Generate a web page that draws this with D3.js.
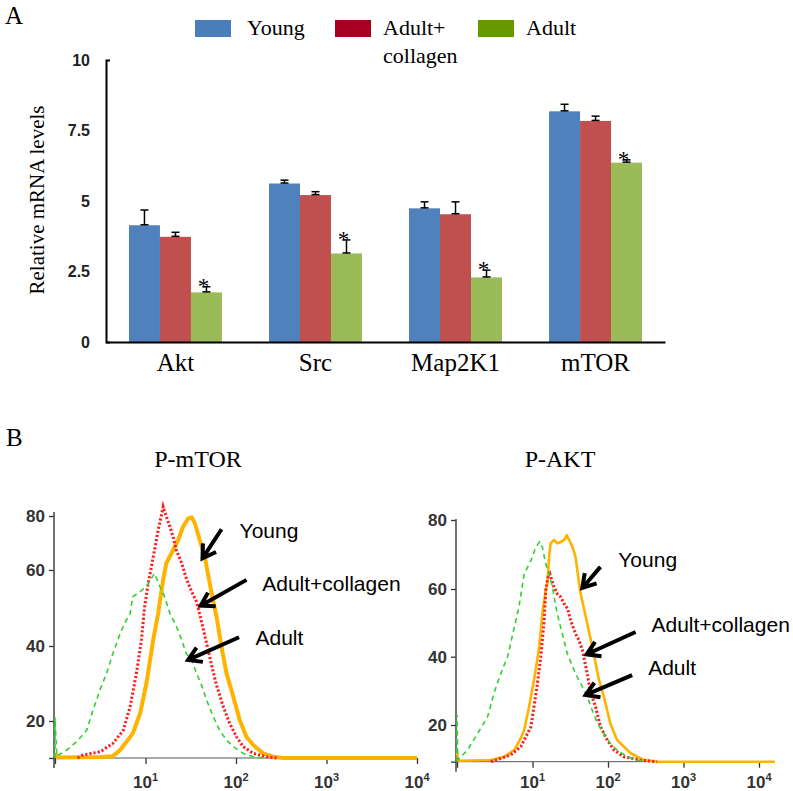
<!DOCTYPE html>
<html><head><meta charset="utf-8">
<script src="https://cdn.jsdelivr.net/npm/d3@7"></script>
<style>body{margin:0;background:#fff}</style>
</head><body><svg id="c" width="793" height="791"></svg>
<script>
// ---------- Panel A data ----------
const categories = ["Akt", "Src", "Map2K1", "mTOR"];
const seriesNames = ["Young", "Adult+collagen", "Adult"];
const youngValues = [4.14, 5.62, 4.74, 8.18];
const adultCollagenValues = [3.73, 5.21, 4.53, 7.84];
const adultValues = [1.76, 3.14, 2.29, 6.36];
const youngErr = [0.54, 0.12, 0.23, 0.25];
const adultCollagenErr = [0.16, 0.12, 0.44, 0.17];
const adultErr = [0.20, 0.48, 0.26, 0.10];
const adultSignificant = [true, true, true, true];
const yTicksA = [0, 2.5, 5, 7.5, 10];

// ---------- Panel B data: [log10 fluorescence, count] ----------
const histYTicks = [0, 20, 40, 60, 80];
const histXTicks = [1, 10, 100, 1000, 10000];
const mtorYoung = [[0,2.5],[0.03,0.3],[0.5,0.5],[0.64,1],[0.72,4.3],[0.86,13.3],[0.94,22],[1.01,30],[1.085,41.6],[1.14,48.6],[1.195,57.4],[1.23,62.5],[1.305,67.4],[1.36,71],[1.415,76],[1.47,79],[1.51,79.5],[1.545,77.3],[1.60,71],[1.655,65],[1.69,59],[1.73,54],[1.785,47.7],[1.84,39.8],[1.895,32.7],[1.97,26.5],[2.04,20.3],[2.115,11.5],[2.19,7],[2.30,2.5],[2.41,0.7],[2.52,0],[4,0]];
const mtorCollagen = [[0.25,0],[0.31,1.6],[0.5,3.4],[0.64,7.9],[0.755,15],[0.83,23.8],[0.90,32.7],[0.955,41.6],[0.99,50.3],[1.03,56.5],[1.065,61.2],[1.10,67.4],[1.14,74.8],[1.18,81],[1.195,83.5],[1.23,79.8],[1.27,76],[1.305,72.3],[1.34,67.4],[1.40,62.5],[1.45,57.8],[1.51,54.3],[1.565,51.6],[1.62,46.3],[1.675,40.7],[1.73,34.9],[1.785,29.5],[1.86,23.8],[1.93,18.7],[2.005,11.5],[2.08,6.1],[2.19,2.5],[2.335,0.7],[2.45,0]];
const mtorAdult = [[0,0],[0,21],[0.02,1],[0.13,4.3],[0.24,8.8],[0.35,15],[0.42,22.9],[0.50,28.5],[0.57,32.7],[0.64,38],[0.72,43.3],[0.77,46],[0.83,48.6],[0.86,53],[0.94,54.3],[1.01,55.6],[1.065,57.8],[1.10,59.1],[1.16,55.6],[1.21,53],[1.27,48.6],[1.34,45.2],[1.40,41.6],[1.45,38],[1.51,36.3],[1.565,32.7],[1.62,29.5],[1.675,25.6],[1.75,21.1],[1.82,15],[1.895,9.7],[1.97,6.1],[2.08,2.5],[2.19,0.7],[2.30,0]];
const aktYoung = [[0,5],[0.02,0.5],[0.45,0.9],[0.625,2.7],[0.76,6.4],[0.845,12.8],[0.89,17.3],[0.955,25.4],[1.02,33.2],[1.09,42.9],[1.13,52.7],[1.175,59.5],[1.20,62.5],[1.22,69.3],[1.24,73.2],[1.285,74.2],[1.33,73.2],[1.375,73.7],[1.42,74.2],[1.455,75.6],[1.485,74.2],[1.53,72.2],[1.57,69.3],[1.63,59.5],[1.725,49.8],[1.81,41],[1.88,33.2],[1.945,28.3],[2.03,20.5],[2.12,11.8],[2.30,4.6],[2.475,0.9],[2.65,0],[4.21,0]];
const aktCollagen = [[0.45,0],[0.58,1.8],[0.71,3.6],[0.845,8.2],[0.98,19.1],[1.02,25.4],[1.065,32.2],[1.11,40],[1.155,50.7],[1.175,59.5],[1.205,63.4],[1.23,64.4],[1.285,60.5],[1.33,58.5],[1.375,57.6],[1.42,55.6],[1.465,54.2],[1.505,50.7],[1.57,46.8],[1.615,44.9],[1.66,42],[1.725,35.1],[1.77,29.3],[1.835,25.4],[1.90,19.1],[1.99,11.8],[2.08,6.4],[2.21,2.7],[2.43,0.9],[2.65,0]];
const aktAdult = [[0,0],[0,23],[0.01,0.9],[0.14,6.4],[0.275,15.5],[0.405,22.4],[0.49,29.3],[0.58,35.1],[0.67,40],[0.76,48.8],[0.82,54.6],[0.89,64.4],[0.98,68.3],[1.045,72.2],[1.095,73.7],[1.13,72.2],[1.175,67.3],[1.22,64.4],[1.265,60.5],[1.31,54.6],[1.35,50.7],[1.395,46.8],[1.46,41],[1.53,37.1],[1.59,34.2],[1.66,31.2],[1.725,28.3],[1.79,24.4],[1.86,20.5],[1.945,15.5],[2.03,10],[2.12,6.4],[2.255,2.7],[2.39,0.9],[2.5,0]];
// annotation label/arrow anchors in data units [log10 FL, count]
const mtorNotes = [
  {label:"Young", at:[2.04,71.8], from:[1.84,75.1], to:[1.63,64.3]},
  {label:"Adult+collagen", at:[2.29,54.5], from:[2.116,57.4], to:[1.61,50.6]},
  {label:"Adult", at:[2.215,40.3], from:[2.034,42.3], to:[1.47,36.3]}
];
const aktNotes = [
  {label:"Young", at:[2.136,66.4], from:[1.90,66.4], to:[1.66,60.3]},
  {label:"Adult+collagen", at:[2.576,47.3], from:[2.365,47.3], to:[1.717,40.7]},
  {label:"Adult", at:[2.532,34.6], from:[2.32,34.6], to:[1.704,28.8]}
];

const SERIF = "'Liberation Serif','Times New Roman',serif";
const SANS = "'Liberation Sans',Arial,sans-serif";
const barColors = ["#4f81bd", "#c0504d", "#9bbb59"];
const legendColors = ["#4a7ebb", "#a50021", "#669900"];

const svg = d3.select("#c");
svg.append("rect").attr("width", 793).attr("height", 791).attr("fill", "#fff");

// ================= Panel A =================
svg.append("text").attr("x", 5).attr("y", 24).attr("font-family", SERIF).attr("font-size", 25).text("A");

const x0 = d3.scaleBand().domain(categories).range([106, 665]).paddingInner(0.336).paddingOuter(0.164);
const x1 = d3.scaleBand().domain(seriesNames).range([0, x0.bandwidth()]);
const yA = d3.scaleLinear().domain([0, 10]).range([342, 60]);

const seriesVals = [youngValues, adultCollagenValues, adultValues];
const seriesErr = [youngErr, adultCollagenErr, adultErr];
const barData = [];
categories.forEach((c, i) => seriesNames.forEach((s, j) => barData.push({c, s, j, v: seriesVals[j][i], e: seriesErr[j][i], sig: j === 2 && adultSignificant[i]})));

const gA = svg.append("g");
gA.selectAll("rect.bar").data(barData).join("rect")
  .attr("x", d => x0(d.c) + x1(d.s)).attr("width", x1.bandwidth())
  .attr("y", d => yA(d.v)).attr("height", d => yA(0) - yA(d.v))
  .attr("fill", d => barColors[d.j]);

// error bars
const cx = d => x0(d.c) + x1(d.s) + x1.bandwidth() / 2;
const eb = gA.selectAll("g.eb").data(barData).join("g").attr("stroke", "#000").attr("stroke-width", 1.5);
eb.append("line").attr("x1", cx).attr("x2", cx).attr("y1", d => yA(d.v)).attr("y2", d => yA(d.v + d.e));
eb.append("line").attr("x1", d => cx(d) - 4).attr("x2", d => cx(d) + 4)
  .attr("y1", d => yA(d.v + d.e)).attr("y2", d => yA(d.v + d.e));
eb.append("line").attr("x1", d => cx(d) - 4).attr("x2", d => cx(d) + 4)
  .attr("y1", d => yA(d.v) - 0.5).attr("y2", d => yA(d.v) - 0.5);

gA.selectAll("text.sig").data(barData.filter(d => d.sig)).join("text")
  .attr("x", d => cx(d) - 3)
  .attr("y", d => yA(d.v + d.e) + 7)
  .attr("text-anchor", "middle").attr("font-family", SERIF).attr("font-size", 23).text("*");

// axes
const yAxisA = svg.append("g").attr("transform", "translate(106,0)")
  .call(d3.axisLeft(yA).tickValues(yTicksA).tickSize(0).tickSizeOuter(-4).tickPadding(16).tickFormat(d => d));
yAxisA.select(".domain").attr("stroke", "#000").attr("stroke-width", 2);
yAxisA.selectAll("text").attr("font-family", SANS).attr("font-weight", "bold").attr("font-size", 16).attr("fill", "#222");

const xAxisA = svg.append("g").attr("transform", "translate(0,342)")
  .call(d3.axisBottom(x0).tickSize(0).tickSizeOuter(0));
xAxisA.select(".domain").attr("stroke", "#000").attr("stroke-width", 2);
xAxisA.selectAll("text").attr("font-family", SERIF).attr("font-size", 25).attr("fill", "#000").attr("y", 29).attr("dy", 0);

svg.append("text").attr("transform", "translate(44,200) rotate(-90)").attr("text-anchor", "middle")
  .attr("font-family", SERIF).attr("font-size", 21).text("Relative mRNA levels");

// legend
const legendX = [195, 335, 478];
const lg = svg.append("g").selectAll("g").data(seriesNames).join("g").attr("transform", (d, i) => `translate(${legendX[i]},20)`);
lg.append("rect").attr("width", 36).attr("height", 17).attr("fill", (d, i) => legendColors[i]);
lg.append("text").attr("y", 15).attr("font-family", SERIF).attr("font-size", 22)
  .each(function (d) {
    const parts = d.includes("+") ? [d.slice(0, d.indexOf("+") + 1), d.slice(d.indexOf("+") + 1)] : [d];
    d3.select(this).selectAll("tspan").data(parts).join("tspan").attr("x", d === "Young" ? 52 : 48).attr("dy", (p, k) => k ? 28 : 0).text(p => p);
  });

// ================= Panel B =================
svg.append("text").attr("x", 6).attr("y", 446).attr("font-family", SERIF).attr("font-size", 25).text("B");

function histPanel(cfg) {
  const xs = d3.scaleLog().domain([1, 1e4]).range(cfg.xr);
  const ys = d3.scaleLinear().domain(histYTicks).range(cfg.yr);
  const g = svg.append("g");
  g.append("text").attr("x", cfg.titleX).attr("y", 467).attr("text-anchor", "middle")
    .attr("font-family", SERIF).attr("font-size", 24).text(cfg.title);

  // axes
  const ya = g.append("g").attr("transform", `translate(${cfg.xr[0] - 1},0)`)
    .call(d3.axisLeft(ys).tickValues(histYTicks).tickSize(5).tickPadding(4).tickFormat(d => d === 0 ? "" : d));
  ya.select(".domain").remove();
  ya.selectAll("line").attr("stroke", "#333").attr("stroke-width", 1.3);
  ya.selectAll("text").attr("font-family", SANS).attr("font-weight", "bold").attr("font-size", 17).attr("fill", "#333");
  g.append("line").attr("x1", cfg.xr[0] - 1).attr("x2", cfg.xr[0] - 1).attr("y1", cfg.yTop).attr("y2", ys(0) + 10)
    .attr("stroke", "#444").attr("stroke-width", 1.5);

  const xa = g.append("g").attr("transform", `translate(0,${ys(0)})`)
    .call(d3.axisBottom(xs).tickValues(histXTicks).tickSize(6).tickFormat(""));
  xa.select(".domain").remove();
  xa.selectAll("line").attr("stroke", "#333").attr("stroke-width", 1.3);
  g.append("line").attr("x1", cfg.xr[0]).attr("x2", cfg.axisEnd).attr("y1", ys(0)).attr("y2", ys(0)).attr("stroke", "#555").attr("stroke-width", 1);
  const lbl = g.selectAll("text.xl").data(histXTicks.slice(1)).join("text").attr("class", "xl")
    .attr("x", d => xs(d)).attr("y", 788).attr("text-anchor", "middle")
    .attr("font-family", SANS).attr("font-weight", "bold").attr("font-size", 17).attr("fill", "#333");
  lbl.append("tspan").text("10");
  lbl.append("tspan").attr("dy", -7).attr("font-size", 11).text(d => Math.round(Math.log10(d)));

  const line = d3.line().x(d => xs(Math.pow(10, d[0]))).y(d => ys(d[1]));
  g.append("path").datum(cfg.young).attr("d", line).attr("fill", "none")
    .attr("stroke", "#ffb300").attr("stroke-width", cfg.youngW).attr("stroke-linejoin", "round");
  g.append("path").datum(cfg.collagen).attr("d", line).attr("fill", "none")
    .attr("stroke", "#ff1f1f").attr("stroke-width", 3).attr("stroke-dasharray", "2.2,2");
  g.append("path").datum(cfg.adult).attr("d", line).attr("fill", "none")
    .attr("stroke", "#2fd22f").attr("stroke-width", 1.6).attr("stroke-dasharray", "5,4");

  // annotations
  cfg.notes.forEach(n => {
    g.append("text").attr("x", xs(Math.pow(10, n.at[0]))).attr("y", ys(n.at[1]))
      .attr("font-family", SANS).attr("font-size", 21).attr("fill", "#000").text(n.label);
    const x1p = xs(Math.pow(10, n.from[0])), y1p = ys(n.from[1]);
    const x2p = xs(Math.pow(10, n.to[0])), y2p = ys(n.to[1]);
    const ang = Math.atan2(y1p - y2p, x1p - x2p);
    const L = 15, a = 0.55;
    const p = d3.path();
    p.moveTo(x1p, y1p); p.lineTo(x2p + 2 * Math.cos(ang), y2p + 2 * Math.sin(ang));
    p.moveTo(x2p + L * Math.cos(ang + a), y2p + L * Math.sin(ang + a));
    p.lineTo(x2p, y2p);
    p.lineTo(x2p + L * Math.cos(ang - a), y2p + L * Math.sin(ang - a));
    g.append("path").attr("d", p.toString()).attr("fill", "none").attr("stroke", "#000")
      .attr("stroke-width", 4).attr("stroke-linejoin", "miter");
  });
}

histPanel({title: "P-mTOR", titleX: 198, xr: [55, 417], yr: [758, 721, 646, 570, 516], yTop: 512, axisEnd: 417,
  young: mtorYoung, collagen: mtorCollagen, adult: mtorAdult, youngW: 4, notes: mtorNotes});
histPanel({title: "P-AKT", titleX: 560, xr: [457, 759], yr: [761.7, 725, 656.7, 589, 520], yTop: 519, axisEnd: 775,
  young: aktYoung, collagen: aktCollagen, adult: aktAdult, youngW: 2.6, notes: aktNotes});
</script></body></html>
